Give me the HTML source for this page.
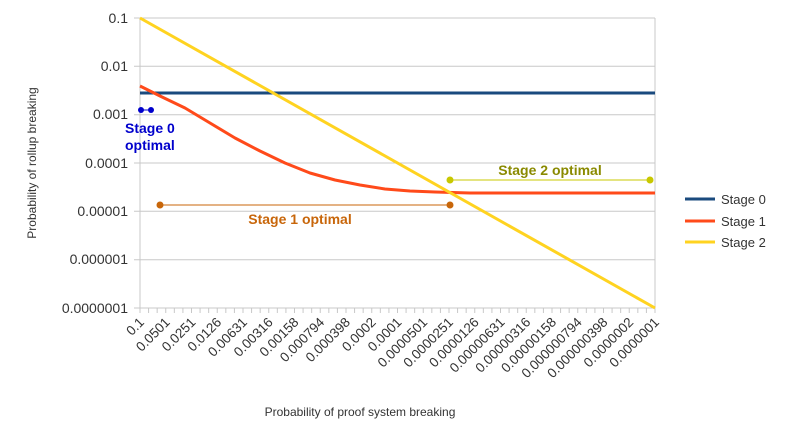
<!DOCTYPE html>
<html><head><style>body{margin:0;background:#fff}svg{font-family:"Liberation Sans",sans-serif}</style></head><body>
<svg width="787" height="443" xmlns="http://www.w3.org/2000/svg">
<rect width="787" height="443" fill="#fff"/>
<g stroke="#c8c8c8" stroke-width="1">
<line x1="134" y1="18" x2="655" y2="18"/><line x1="134" y1="66.3" x2="655" y2="66.3"/><line x1="134" y1="114.7" x2="655" y2="114.7"/><line x1="134" y1="163" x2="655" y2="163"/><line x1="134" y1="211.3" x2="655" y2="211.3"/><line x1="134" y1="259.7" x2="655" y2="259.7"/><line x1="134" y1="308" x2="655" y2="308"/>
<line x1="140" y1="18" x2="140" y2="313"/><line x1="655" y1="18" x2="655" y2="313"/>
</g>
<path stroke="#c8c8c8" fill="none" d="M148.58,308v5M157.17,308v5M165.75,308v5M174.33,308v5M182.92,308v5M191.5,308v5M200.08,308v5M208.67,308v5M217.25,308v5M225.83,308v5M234.42,308v5M243,308v5M251.58,308v5M260.17,308v5M268.75,308v5M277.33,308v5M285.92,308v5M294.5,308v5M303.08,308v5M311.67,308v5M320.25,308v5M328.83,308v5M337.42,308v5M346,308v5M354.58,308v5M363.17,308v5M371.75,308v5M380.33,308v5M388.92,308v5M397.5,308v5M406.08,308v5M414.67,308v5M423.25,308v5M431.83,308v5M440.42,308v5M449,308v5M457.58,308v5M466.17,308v5M474.75,308v5M483.33,308v5M491.92,308v5M500.5,308v5M509.08,308v5M517.67,308v5M526.25,308v5M534.83,308v5M543.42,308v5M552,308v5M560.58,308v5M569.17,308v5M577.75,308v5M586.33,308v5M594.92,308v5M603.5,308v5M612.08,308v5M620.67,308v5M629.25,308v5M637.83,308v5M646.42,308v5"/>
<g font-size="14" fill="#333" text-anchor="end">
<text x="128" y="23">0.1</text><text x="128" y="71">0.01</text><text x="128" y="119">0.001</text><text x="128" y="168">0.0001</text><text x="128" y="216">0.00001</text><text x="128" y="264">0.000001</text><text x="128" y="313">0.0000001</text>
</g>
<g font-size="13.5" fill="#333" text-anchor="end">
<text transform="translate(145,323) rotate(-45)">0.1</text>
<text transform="translate(170.75,323) rotate(-45)">0.0501</text>
<text transform="translate(196.5,323) rotate(-45)">0.0251</text>
<text transform="translate(222.25,323) rotate(-45)">0.0126</text>
<text transform="translate(248,323) rotate(-45)">0.00631</text>
<text transform="translate(273.75,323) rotate(-45)">0.00316</text>
<text transform="translate(299.5,323) rotate(-45)">0.00158</text>
<text transform="translate(325.25,323) rotate(-45)">0.000794</text>
<text transform="translate(351,323) rotate(-45)">0.000398</text>
<text transform="translate(376.75,323) rotate(-45)">0.0002</text>
<text transform="translate(402.5,323) rotate(-45)">0.0001</text>
<text transform="translate(428.25,323) rotate(-45)">0.0000501</text>
<text transform="translate(454,323) rotate(-45)">0.0000251</text>
<text transform="translate(479.75,323) rotate(-45)">0.0000126</text>
<text transform="translate(505.5,323) rotate(-45)">0.00000631</text>
<text transform="translate(531.25,323) rotate(-45)">0.00000316</text>
<text transform="translate(557,323) rotate(-45)">0.00000158</text>
<text transform="translate(582.75,323) rotate(-45)">0.000000794</text>
<text transform="translate(608.5,323) rotate(-45)">0.000000398</text>
<text transform="translate(634.25,323) rotate(-45)">0.0000002</text>
<text transform="translate(660,323) rotate(-45)">0.0000001</text>
</g>
<line x1="140" y1="93" x2="655" y2="93" stroke="#1a4a7e" stroke-width="3"/>
<polyline points="140,86 160,96 185,108 210,123 235,138 260,151 285,163 310,173 335,180 360,185 385,189 410,191 435,192 470,193 655,193" fill="none" stroke="#ff4a1a" stroke-width="3" stroke-linejoin="round"/>
<line x1="140" y1="18" x2="655" y2="308" stroke="#ffd320" stroke-width="3"/>
<line x1="141" y1="110" x2="151" y2="110" stroke="#0000cc"/>
<g fill="#0000cc"><circle cx="141" cy="110" r="3"/><circle cx="151" cy="110" r="3"/></g>
<text x="125" y="133" font-size="14" font-weight="bold" fill="#0000cc">Stage 0</text>
<text x="125" y="150" font-size="14" font-weight="bold" fill="#0000cc">optimal</text>
<line x1="160" y1="205" x2="450" y2="205" stroke="#c8660a"/>
<circle cx="160" cy="205" r="3.5" fill="#c8660a"/><circle cx="450" cy="205" r="3.5" fill="#c8660a"/>
<text x="300" y="224" font-size="14" font-weight="bold" fill="#c8660a" text-anchor="middle">Stage 1 optimal</text>
<line x1="450" y1="180" x2="650" y2="180" stroke="#c8c800"/>
<circle cx="450" cy="180" r="3.5" fill="#c8c800"/><circle cx="650" cy="180" r="3.5" fill="#c8c800"/>
<text x="550" y="175" font-size="14" font-weight="bold" fill="#8a8a00" text-anchor="middle">Stage 2 optimal</text>
<g font-size="13" fill="#333">
<line x1="685" y1="199" x2="715" y2="199" stroke="#1a4a7e" stroke-width="3"/><text x="721" y="204">Stage 0</text>
<line x1="685" y1="221" x2="715" y2="221" stroke="#ff4a1a" stroke-width="3"/><text x="721" y="226">Stage 1</text>
<line x1="685" y1="242" x2="715" y2="242" stroke="#ffd320" stroke-width="3"/><text x="721" y="247">Stage 2</text>
</g>
<text x="360" y="416" font-size="12" fill="#333" text-anchor="middle">Probability of proof system breaking</text>
<text transform="translate(36,163) rotate(-90)" font-size="12" fill="#333" text-anchor="middle">Probability of rollup breaking</text>
</svg>
</body></html>
